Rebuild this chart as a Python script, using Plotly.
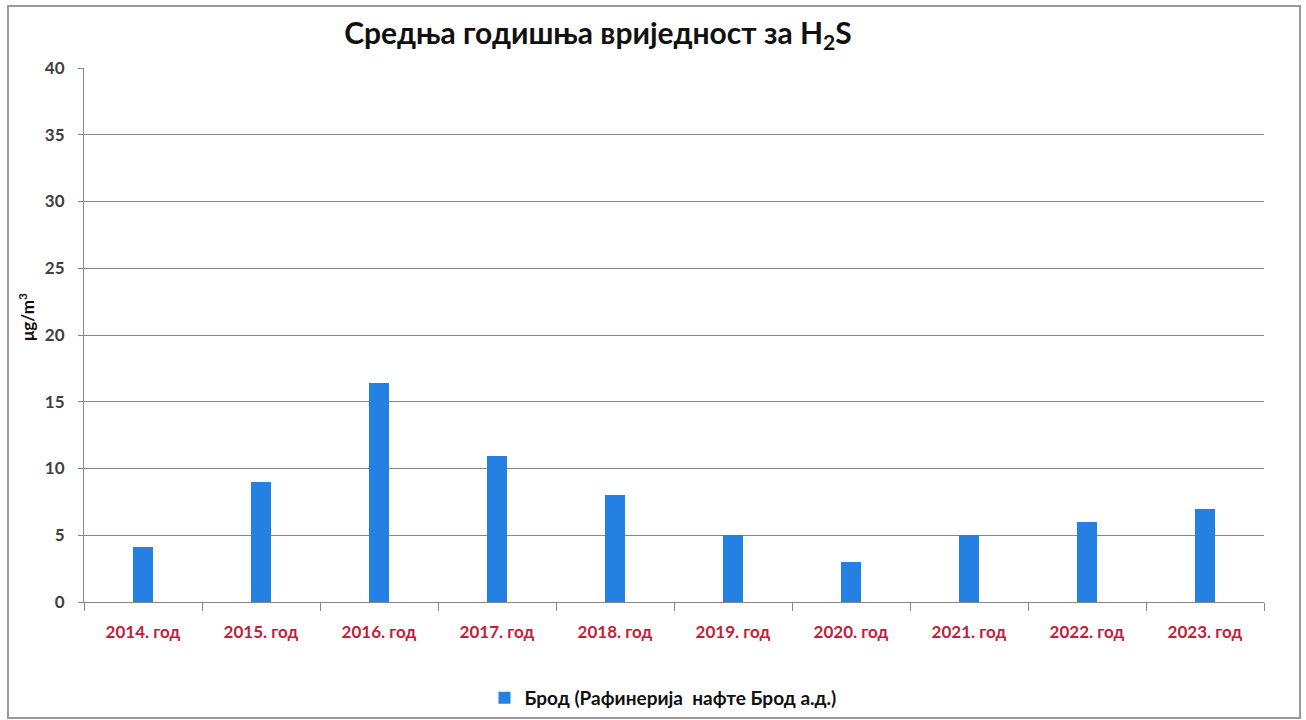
import plotly.graph_objects as go

# Annual mean H2S concentration at the Brod station
years = ["2014. год", "2015. год", "2016. год", "2017. год", "2018. год",
         "2019. год", "2020. год", "2021. год", "2022. год", "2023. год"]
h2s_values = [4.1, 9.0, 16.4, 10.9, 8.0, 5.0, 3.0, 5.0, 6.0, 7.0]
series_name = "Брод (Рафинерија  нафте Брод а.д.)"
unit_label = "μg/m<sup>3</sup>"
y_ticks = [0, 5, 10, 15, 20, 25, 30, 35, 40]

W, H = 1306, 720
L, R, T, B = 84, 42, 68, 118
pw, ph = W - L - R, H - T - B


def px_x(p):
    return (p - L) / pw


def px_y(p):
    return (H - B - p) / ph


fig = go.Figure()
fig.add_trace(go.Bar(
    x=years, y=h2s_values, name=series_name,
    marker=dict(color="#2580e3", line=dict(width=0)),
    width=0.17, showlegend=True,
))

fig.update_layout(
    width=W, height=H,
    margin=dict(l=L, r=R, t=T, b=B),
    paper_bgcolor="white", plot_bgcolor="white",
    font=dict(family="Lato, Open Sans, sans-serif", color="#404040"),
    title=dict(
        text="Средња годишња вриједност за H<sub>2</sub>S",
        x=px_x(598), xref="paper", xanchor="center",
        y=1 - 33 / H, yref="container", yanchor="middle",
        font=dict(size=30, color="#111111", weight="bold"),
    ),
    xaxis=dict(
        type="category", showgrid=False, automargin=False,
        showline=True, linecolor="#858585", linewidth=1,
        ticks="outside", tickson="boundaries", ticklen=8, tickcolor="#858585",
        tickfont=dict(size=17, color="#c0203a", weight="bold"),
        ticklabelstandoff=15,
    ),
    yaxis=dict(
        range=[0, 40], tickvals=y_ticks, automargin=False,
        showgrid=True, gridcolor="#858585", gridwidth=1,
        showline=True, linecolor="#858585", linewidth=1,
        ticks="outside", ticklen=5, tickcolor="#858585",
        tickfont=dict(size=17, color="#404040", weight="bold"),
        ticklabelstandoff=10,
        zeroline=False,
    ),
    legend=dict(
        orientation="h", x=px_x(663), xanchor="center",
        yref="container", y=(H - 698) / H, yanchor="middle",
        font=dict(size=19, color="#111111", weight="bold"),
        itemwidth=30,
    ),
    bargap=0,
    annotations=[dict(
        text=unit_label, textangle=-90, showarrow=False,
        xref="paper", yref="paper", x=px_x(26), y=px_y(317),
        xanchor="center", yanchor="middle",
        font=dict(size=17, color="#111111", weight="bold"),
    )],
    shapes=[dict(
        type="rect", xref="paper", yref="paper",
        x0=px_x(8), x1=px_x(1300), y0=px_y(718), y1=px_y(6),
        line=dict(color="#9a9a9a", width=2), fillcolor="rgba(0,0,0,0)",
        layer="below",
    )],
)

fig.write_html("out.html")
